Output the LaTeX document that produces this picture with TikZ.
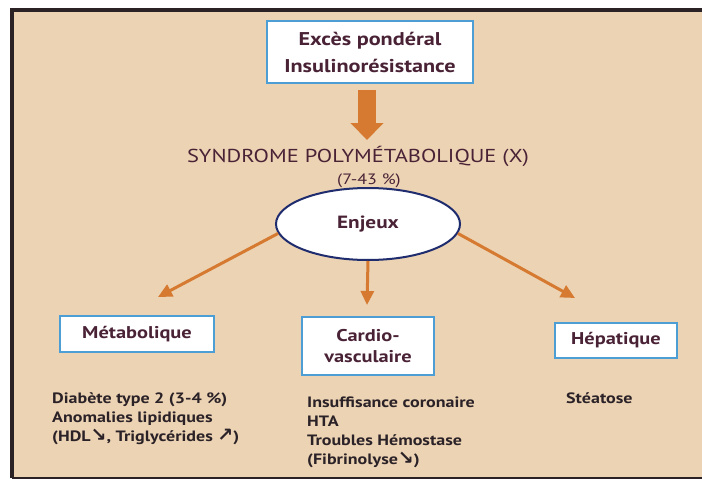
\documentclass[tikz,border=0pt]{standalone}
\usepackage{fontspec}
\setmainfont{PT Sans}[FakeStretch=1.2]
\newfontfamily\arrowfont{DejaVu Sans}
\usetikzlibrary{arrows.meta,shapes.geometric}
\definecolor{bgbeige}{HTML}{ECD3B3}
\definecolor{framedark}{HTML}{2A2224}
\definecolor{boxblue}{HTML}{4E9ED6}
\definecolor{navy}{HTML}{1F2C6E}
\definecolor{arroworange}{HTML}{D57A30}
\definecolor{plum}{HTML}{4A2236}
\definecolor{listtext}{HTML}{2B2228}
\newcommand{\dnarr}{{\arrowfont\bfseries\fontsize{19}{19}\selectfont ↘}}
\newcommand{\uparr}{{\arrowfont\bfseries\fontsize{19}{19}\selectfont ↗}}
\tikzset{
  labelbox/.style={draw=boxblue, line width=2.4pt, fill=white, align=center,
    text=plum, font=\bfseries, inner sep=0pt},
  listtext/.style={anchor=north west, align=left, text=listtext,
    font=\fontsize{15}{19}\selectfont\bfseries, inner sep=0pt},
  link/.style={draw=arroworange, line width=3pt,
    -{Triangle[width=13pt,length=14pt]}},
}
\begin{document}
\begin{tikzpicture}[x=1pt,y=-1pt]
\useasboundingbox (0,0) rectangle (702,479);
% background and frame
\fill[white] (0,0) rectangle (702,479);
\fill[bgbeige] (12,10) rectangle (702,477);
\draw[framedark, line width=4pt] (12,478) -- (12,9.5) -- (702,9.5);
\draw[framedark, line width=2pt] (12,477.5) -- (702,477.5);
% top box
\node[labelbox, minimum width=206pt, minimum height=62pt,
  font=\fontsize{18.5}{27}\selectfont\bfseries] (top) at (370,52)
  {Excès pondéral\\Insulinorésistance};
% syndrome text
\node[text=plum, font=\fontsize{18.7}{20}\selectfont, inner sep=0pt] (syn) at (358,156)
  {SYNDROME POLYMÉTABOLIQUE (X)};
\node[text=plum, font=\fontsize{15}{16}\selectfont, inner sep=0pt] (pct) at (369,181)
  {(7-43 \%)};
% big arrow
\coordinate (bigtail) at (367,90);
\coordinate (bigtip) at (367,140);
\draw[arroworange, line width=18pt, -{Triangle[width=32pt,length=17pt]}]
  (bigtail) -- (bigtip);
% ellipse
\node[ellipse, draw=navy, line width=2pt, fill=white!95!blue!3,
  minimum width=184pt, minimum height=72pt, text=plum,
  font=\fontsize{17.7}{20}\selectfont\bfseries, inner sep=0pt] (enj) at (368,224) {Enjeux};
% boxes
\node[labelbox, minimum width=154pt, minimum height=36pt,
  font=\fontsize{17}{20}\selectfont\bfseries] (meta) at (137,334) {Métabolique};
\node[labelbox, minimum width=132pt, minimum height=58pt,
  font=\fontsize{17}{21}\selectfont\bfseries] (cardio) at (368,346) {Cardio-\\vasculaire};
\node[labelbox, minimum width=122pt, minimum height=35pt,
  font=\fontsize{17}{20}\selectfont\bfseries] (hepa) at (616,340.5) {Hépatique};
% arrow ends
\coordinate (lefttip) at (158,297);
\coordinate (midtip) at (367,305);
\coordinate (righttip) at (575,298);
\draw[link] (enj.186) -- (lefttip);
\draw[link] (enj.south) -- (midtip);
\draw[link] (enj.354) -- (righttip);
% lists
\node[listtext] (metalist) at (52,392)
  {Diabète type 2 (3-4 \%)\\Anomalies lipidiques\\(HDL\dnarr, Triglycérides \uparr)};
\node[listtext] (cardiolist) at (307,397)
  {Insuffisance coronaire\\HTA\\Troubles Hémostase\\(Fibrinolyse\dnarr)};
\node[listtext] (hepalist) at (566,392) {Stéatose};
\end{tikzpicture}
\end{document}
